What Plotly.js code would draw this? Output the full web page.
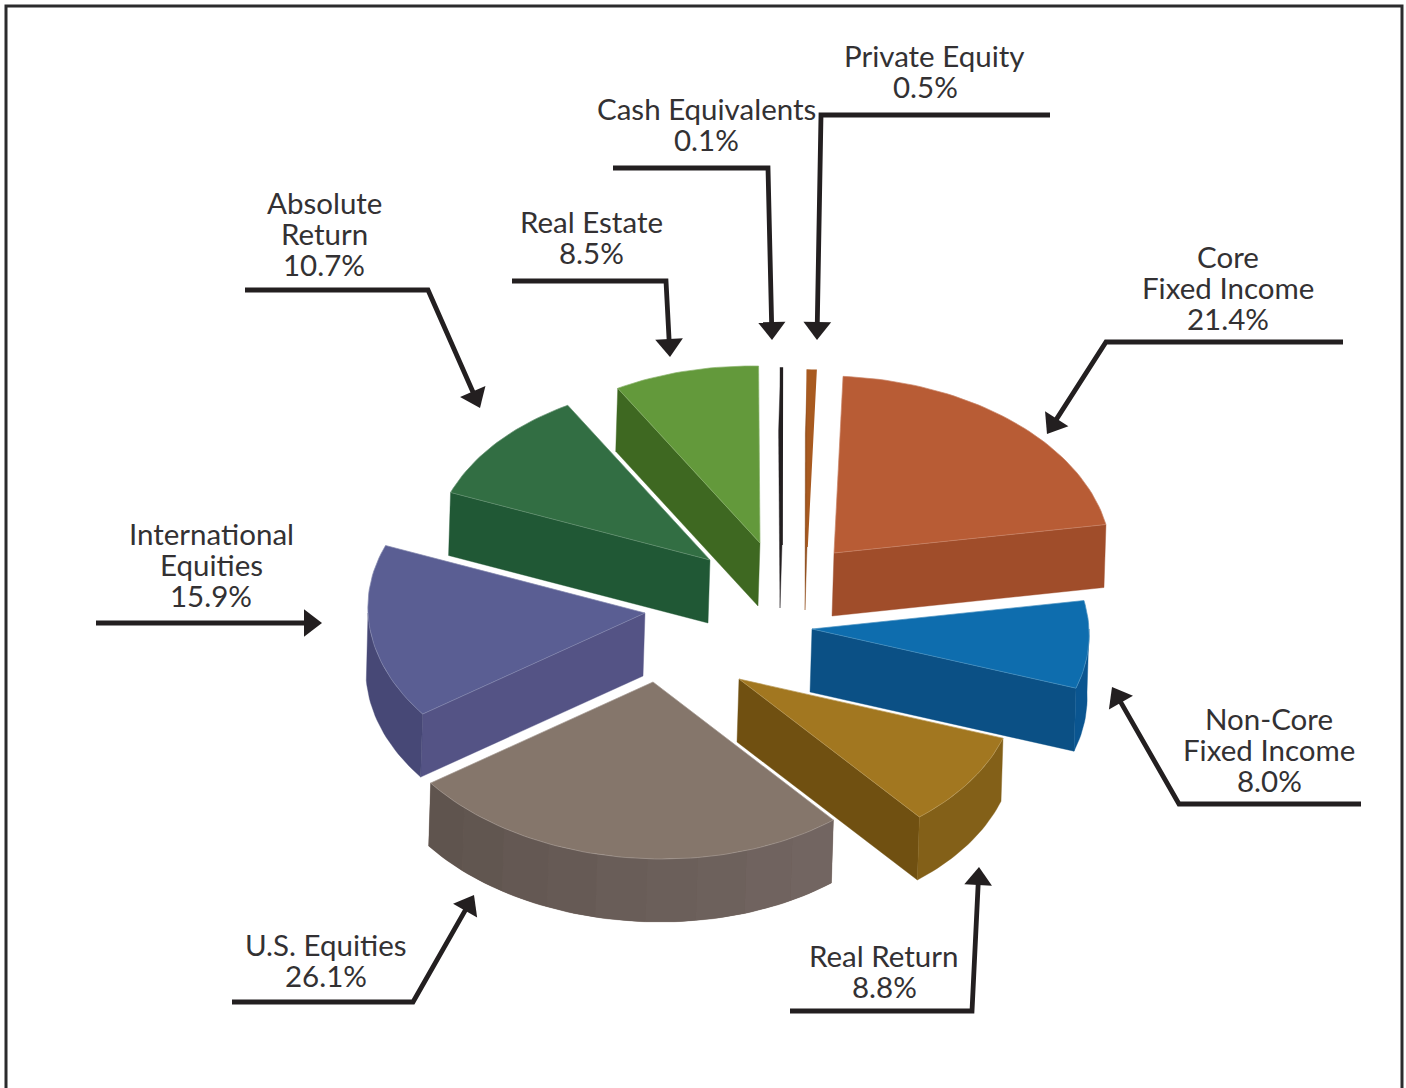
<!DOCTYPE html>
<html><head><meta charset="utf-8">
<script src="https://cdn.plot.ly/plotly-3.0.1.min.js"></script>
<style>html,body{margin:0;padding:0;background:#fff;overflow:hidden}#c{width:1406px;height:1088px}</style>
</head><body><div id="c"></div>
<script>
// --- data (clockwise, starting at the top)
const categories = ["Core Fixed Income","Non-Core Fixed Income","Real Return","U.S. Equities","International Equities","Absolute Return","Real Estate","Cash Equivalents","Private Equity"];
const shares = [21.4, 8.0, 8.8, 26.1, 15.9, 10.7, 8.5, 0.1, 0.5];
const labelLines = [["Core","Fixed Income","21.4%"],["Non-Core","Fixed Income","8.0%"],["Real Return","8.8%"],["U.S. Equities","26.1%"],["International","Equities","15.9%"],["Absolute","Return","10.7%"],["Real Estate","8.5%"],["Cash Equivalents","0.1%"],["Private Equity","0.5%"]];
// --- styles
const topColor  = ["#B85C35","#0E6DAE","#A27720","#85766B","#5A5E93","#326E43","#63993B","#231F20","#A85A20"];
const cutColor  = ["#A04D2A","#0B5085","#705011","#6E5F58","#545385","#205835","#3E6821","#231F20","#8F4C1A"];
const wallColor = ["#A04D2A","#0A5590","#836018","#6E5F58","#474876","#205835","#3E6821","#231F20","#8F4C1A"];
// --- drawing geometry: ellipse, shear, depth, where each exploded slice's tip sits
const RX=277, RY=177, SHEAR=0.05, DEPTH=63, SKEW=-2, START=3.7;
const tipX=[834,812,739,653,645,710,760,782,807];
const tipY=[553,629,679,682,613,560,543,545,547];
// which cut edge shows a wall: 0 none, 1 start edge, 2 end edge
const cutEdge=[2,2,2,0,1,1,1,1,1];
// --- label and leader placement
const labelX=[1228,1269,884,326,211,324,591,706,934];
const labelY=[256,718,955,944,533,202,221,108,55];
const lastLineShift=[0,0,0,0,0,0,0,0,-9];
const leaders=[
 [[1343,342],[1106,342],[1047,434]],
 [[1361,804],[1179,804],[1112,687]],
 [[790,1011],[972,1011],[979,867]],
 [[232,1002],[413,1002],[474,895]],
 [[96,623],[322,623]],
 [[245,290],[428,290],[480,408]],
 [[512,281],[666,281],[670,357]],
 [[613,168],[768,168],[772,340]],
 [[1050,115],[821,115],[817,340]]];
const INK="#231F20";

const rad=d=>d*Math.PI/180;
const pt=(i,t,dy=0)=>[tipX[i]+RX*Math.sin(rad(t))-SHEAR*RY*Math.cos(rad(t))+(dy?SKEW:0), tipY[i]-RY*Math.cos(rad(t))+dy];
function poly(pts,fill,line,w){
  return {type:"scatter",mode:"lines",x:pts.map(p=>p[0]).concat(pts[0][0]),y:pts.map(p=>p[1]).concat(pts[0][1]),
    fill:"toself",fillcolor:fill,line:{color:line||fill,width:w===undefined?0.4:w},hoverinfo:"skip",showlegend:false};
}
function mix(a,b,f){const h=s=>[1,3,5].map(k=>parseInt(s.substr(k,2),16));const A=h(a),B=h(b);
  return "rgb("+A.map((v,k)=>Math.round(v+(B[k]-v)*f)).join(",")+")";}
function arc(i,a,b){const n=Math.max(2,Math.ceil(Math.abs(b-a)/1.5));const r=[];for(let k=0;k<=n;k++)r.push(a+(b-a)*k/n);return r;}
const band=(i,ts)=>ts.map(t=>pt(i,t)).concat(ts.slice().reverse().map(t=>pt(i,t,DEPTH)));
const traces=[];
let angle=START; const spans=shares.map(s=>{const a=angle;angle+=s*3.6;return [a,angle];});
[8,7,6,5,0,4,1,2,3].forEach(i=>{
  const [a,b]=spans[i];
  const tip=[tipX[i],tipY[i]], tipD=[tipX[i]+SKEW,tipY[i]+DEPTH];
  if(cutEdge[i]){const e=pt(i,cutEdge[i]===1?a:b),eD=pt(i,cutEdge[i]===1?a:b,DEPTH);
    traces.push(poly([tip,e,eD,tipD],cutColor[i]));}
  const wa=Math.max(a,90), wb=Math.min(b,270);
  if(wb>wa){
    traces.push(poly(band(i,arc(i,wa,wb)),wallColor[i]));
    if(i===3){
      const m=9;
      for(let f=0;f<m;f++){
        const col=mix("#726561","#5F544E",f/(m-1));
        traces.push(poly(band(i,arc(i,wa+(wb-wa)*f/m,wa+(wb-wa)*(f+1)/m)),col,col,0));
      }
    }
  }
  const top=[tip].concat(arc(i,a,b).map(t=>pt(i,t)));
  const thin=shares[i]<1;
  traces.push(poly(top,topColor[i],thin?topColor[i]:mix(topColor[i],"#FFFFFF",0.25),thin?1.6:0.7));
});
const HEAD=12;
leaders.forEach(p=>{
  const n=p.length, tip=p[n-1], prev=p[n-2];
  const L=Math.hypot(tip[0]-prev[0],tip[1]-prev[1]), ux=(tip[0]-prev[0])/L, uy=(tip[1]-prev[1])/L;
  const mx=tip[0]-HEAD*ux, my=tip[1]-HEAD*uy;
  traces.push({type:"scatter",mode:"lines",x:p.slice(0,n-1).map(q=>q[0]).concat(mx),y:p.slice(0,n-1).map(q=>q[1]).concat(my),
    line:{color:INK,width:4.8},hoverinfo:"skip",showlegend:false});
  traces.push({type:"scatter",mode:"markers",x:[mx],y:[my],hoverinfo:"skip",showlegend:false,
    marker:{symbol:"triangle-up",size:HEAD*2,color:INK,line:{width:0},angle:Math.atan2(ux,-uy)*180/Math.PI}});
});
const annotations=[];
labelLines.forEach((lines,i)=>lines.forEach((t,k)=>annotations.push({
  x:labelX[i]+(k===lines.length-1?lastLineShift[i]:0),y:labelY[i]+k*31,xref:"x",yref:"y",text:t,showarrow:false,xanchor:"center",yanchor:"middle",
  font:{family:"Lato, sans-serif",size:29.5,color:"#333133"}})));
const layout={width:1406,height:1088,margin:{l:0,r:0,t:0,b:0},paper_bgcolor:"#fff",plot_bgcolor:"#fff",showlegend:false,
  xaxis:{range:[0,1406],visible:false,fixedrange:true},yaxis:{range:[1088,0],visible:false,fixedrange:true},
  annotations,
  shapes:[{type:"rect",xref:"x",yref:"y",x0:6,x1:1402,y0:6,y1:1110,line:{color:"#2b2b2d",width:3},layer:"below"}]};
Plotly.newPlot("c",traces,layout,{staticPlot:true,displayModeBar:false});
</script></body></html>
